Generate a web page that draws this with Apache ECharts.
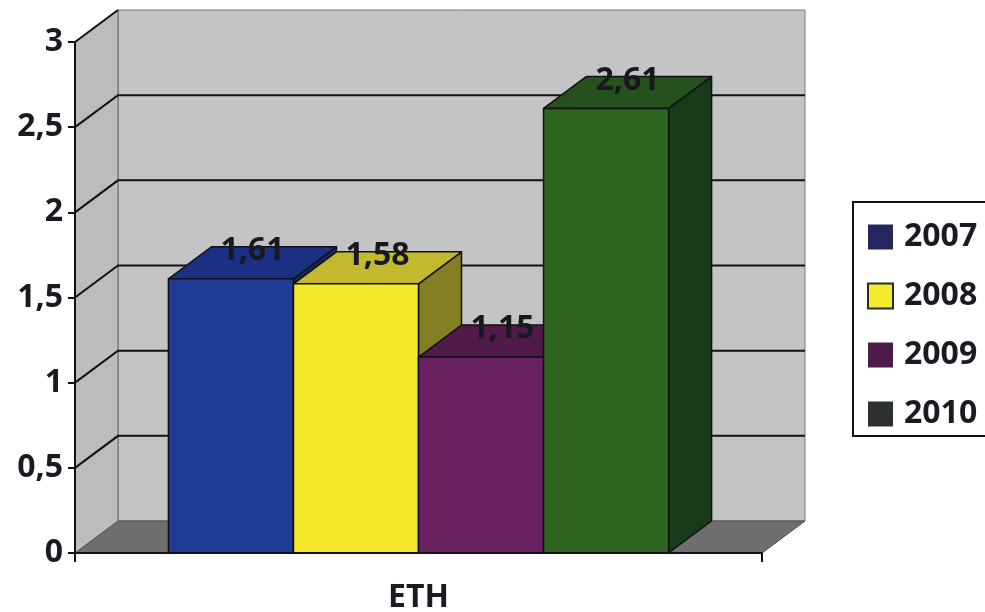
<!DOCTYPE html>
<html>
<head>
<meta charset="utf-8">
<script src="https://cdn.jsdelivr.net/npm/echarts@6/dist/echarts.min.js"></script>
<style>
  html, body { margin: 0; padding: 0; background: #ffffff; }
  #chart { width: 985px; height: 612px; }
</style>
</head>
<body>
<div id="chart"></div>
<script>
// Chart data
const categories = ['ETH'];
const years = ['2007', '2008', '2009', '2010'];
const values = [1.61, 1.58, 1.15, 2.61];
const yTicks = [0, 0.5, 1, 1.5, 2, 2.5, 3];

// Face colours of each 3D bar: front, top, right side
const faces = [
  { front: '#213c97', top: '#1b2f83', side: '#15255f' },
  { front: '#f3e82a', top: '#c2b92c', side: '#837f24' },
  { front: '#6a2162', top: '#4f1a4a', side: '#3a1236' },
  { front: '#2e6520', top: '#25521c', side: '#173a18' }
];
const legendColors = ['#24275d', '#f2ea2a', '#4d1b4a', '#2c312e'];

// Oblique projection offset of the depth axis, in pixels
const DX = 43, DY = -32;
const BAR_FRACTION = 0.182;
const FONT = '"Open Sans", "DejaVu Sans", sans-serif';

function fmt(v) { return String(v).replace('.', ','); }

function renderWalls(params, api) {
  const cs = params.coordSys;
  const gx = cs.x, gw = cs.width;
  const y0 = api.coord([0, yTicks[0]])[1];
  const yTop = api.coord([0, yTicks[yTicks.length - 1]])[1];
  const children = [];
  // back wall
  children.push({
    type: 'rect',
    shape: { x: gx + DX, y: yTop + DY, width: gw, height: y0 - yTop },
    style: { fill: '#c4c4c7', stroke: '#7a7a7a', lineWidth: 1 }
  });
  // left side wall
  children.push({
    type: 'polygon',
    shape: { points: [[gx, y0], [gx + DX, y0 + DY], [gx + DX, yTop + DY], [gx, yTop]] },
    style: { fill: '#bcbcbf', stroke: null }
  });
  // floor
  children.push({
    type: 'polygon',
    shape: { points: [[gx, y0], [gx + gw, y0], [gx + gw + DX, y0 + DY], [gx + DX, y0 + DY]] },
    style: { fill: '#6f6f70', stroke: '#4a4a4a', lineWidth: 1 }
  });
  // back-left corner edge
  children.push({
    type: 'line',
    shape: { x1: gx + DX, y1: y0 + DY, x2: gx + DX, y2: yTop + DY },
    style: { stroke: '#666666', lineWidth: 1 }
  });
  // gridlines wrapping the side wall and back wall
  yTicks.forEach(function (v, i) {
    if (i === 0) return;
    const y = api.coord([0, v])[1];
    const pts = (i === yTicks.length - 1)
      ? [[gx, y], [gx + DX, y + DY]]
      : [[gx, y], [gx + DX, y + DY], [gx + gw + DX, y + DY]];
    children.push({
      type: 'polyline',
      shape: { points: pts },
      style: { stroke: '#111111', lineWidth: 2, fill: null }
    });
  });
  return { type: 'group', children: children };
}

function makeBarRenderer(idx) {
  return function (params, api) {
    const v = api.value(1);
    const base = api.coord([0, 0]);
    const top = api.coord([0, v]);
    const band = api.size([1, 0])[0];
    const w = band * BAR_FRACTION;
    const x0 = base[0] - 2 * w + idx * w;
    const x1 = x0 + w;
    const yb = base[1], yt = top[1];
    const c = faces[idx];
    const edge = { stroke: '#111111', lineWidth: 1.5, lineJoin: 'round' };
    return {
      type: 'group',
      children: [
        {
          type: 'polygon',
          shape: { points: [[x1, yb], [x1 + DX, yb + DY], [x1 + DX, yt + DY], [x1, yt]] },
          style: Object.assign({ fill: c.side }, edge)
        },
        {
          type: 'polygon',
          shape: { points: [[x0, yt], [x1, yt], [x1 + DX, yt + DY], [x0 + DX, yt + DY]] },
          style: Object.assign({ fill: c.top }, edge)
        },
        {
          type: 'rect',
          shape: { x: x0, y: yt, width: w, height: yb - yt },
          style: Object.assign({ fill: c.front }, edge)
        },
        {
          type: 'text',
          z2: 100,
          style: {
            text: fmt(v),
            x: (x0 + x1) / 2 + DX / 2,
            y: yt + DY + 4,
            align: 'center',
            verticalAlign: 'middle',
            font: 'bold 32px ' + FONT,
            fill: '#18181f'
          }
        }
      ]
    };
  };
}

const chart = echarts.init(document.getElementById('chart'), null, { renderer: 'canvas' });

const series = [{
  type: 'custom',
  name: 'walls',
  z: 1,
  silent: true,
  renderItem: renderWalls,
  data: [[0, 0]]
}];
years.forEach(function (y, i) {
  series.push({
    type: 'custom',
    name: y,
    z: 2,
    itemStyle: { color: legendColors[i] },
    renderItem: makeBarRenderer(i),
    data: [[0, values[i]]]
  });
});

chart.setOption({
  animation: false,
  backgroundColor: '#ffffff',
  grid: { left: 75, right: 223, top: 42, bottom: 59, containLabel: false, outerBoundsMode: 'none' },
  // legend frame, running past the right edge of the canvas
  graphic: [{
    type: 'rect',
    z: 5,
    shape: { x: 853, y: 202, width: 180, height: 234 },
    style: { fill: '#ffffff', stroke: '#111111', lineWidth: 2 }
  }],
  legend: {
    orient: 'vertical',
    left: 853,
    top: 202,
    z: 6,
    padding: [19, 10, 8, 14],
    itemGap: 27,
    itemWidth: 25,
    itemHeight: 25,
    textStyle: {
      fontFamily: FONT,
      fontWeight: 'bold',
      fontSize: 32,
      color: '#1a1a22',
      padding: [0, 0, 0, 6]
    },
    data: years.map(function (y, i) {
      return {
        name: y,
        icon: 'rect',
        itemStyle: {
          color: legendColors[i],
          borderColor: i === 1 ? '#2a2a2a' : legendColors[i],
          borderWidth: i === 1 ? 2 : 0
        }
      };
    })
  },
  xAxis: {
    type: 'category',
    data: categories,
    boundaryGap: true,
    z: 10,
    axisLine: { show: true, lineStyle: { color: '#111111', width: 2 } },
    axisTick: { show: true, length: 9, lineStyle: { color: '#111111', width: 2 } },
    axisLabel: {
      margin: 29,
      fontFamily: FONT,
      fontWeight: 'bold',
      fontSize: 32,
      color: '#1a1a22'
    },
    splitLine: { show: false }
  },
  yAxis: {
    type: 'value',
    min: 0,
    max: 3,
    interval: 0.5,
    z: 10,
    axisLine: { show: true, lineStyle: { color: '#111111', width: 2 } },
    axisTick: { show: true, length: 7, lineStyle: { color: '#111111', width: 2 } },
    axisLabel: {
      margin: 12,
      formatter: fmt,
      fontFamily: FONT,
      fontWeight: 'bold',
      fontSize: 32,
      color: '#1a1a22'
    },
    splitLine: { show: false }
  },
  series: series
});
</script>
</body>
</html>
